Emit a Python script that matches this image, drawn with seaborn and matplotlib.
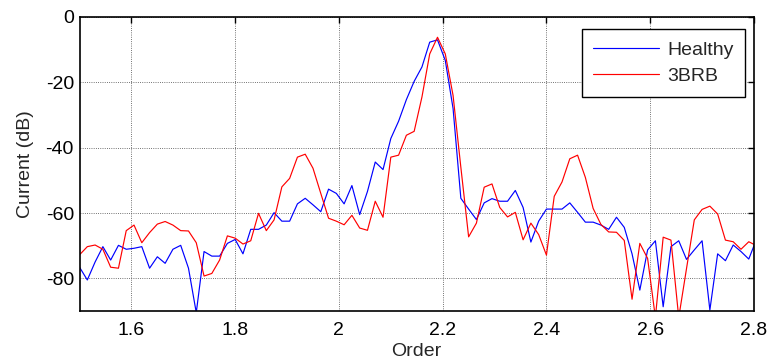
import numpy as np
import pandas as pd
import matplotlib
matplotlib.use("Agg")
import matplotlib.pyplot as plt
import seaborn as sns

## Data (order spectrum, dB)

order_start = 1.5
order_step = 0.015

healthy = [-76.6, -80.5, -75.0, -70.3, -74.4, -69.9, -71.1, -70.8, -70.3, -76.9,
           -73.4, -75.4, -71.1, -69.9, -76.9, -90.5, -71.8, -73.2, -73.2, -69.3,
           -68.1, -72.5, -65.0, -65.0, -63.7, -59.9, -62.5, -62.5, -57.2, -55.5,
           -57.5, -59.6, -52.7, -54.0, -57.2, -51.6, -60.5, -53.4, -44.4, -46.7,
           -37.2, -31.9, -25.3, -19.7, -15.3, -7.7, -7.0, -13.3, -28.0, -55.5,
           -58.8, -62.0, -56.9, -55.6, -56.4, -56.4, -53.1, -58.3, -68.9, -62.5,
           -58.8, -58.8, -58.8, -56.9, -59.8, -62.8, -62.8, -63.7, -65.0, -61.3,
           -64.4, -72.5, -83.6, -71.3, -68.5, -88.7, -70.3, -68.5, -74.2, -71.3,
           -68.5, -89.7, -72.5, -74.6, -69.8, -71.8, -74.1, -68.0]

brb3 = [-72.8, -70.3, -69.8, -71.1, -76.6, -76.9, -65.4, -63.7, -69.1, -66.0,
        -63.4, -62.6, -63.7, -65.4, -65.5, -69.1, -79.3, -78.5, -74.4, -67.0,
        -67.7, -69.5, -68.5, -60.1, -65.4, -62.1, -52.0, -49.4, -42.9, -42.0,
        -46.3, -54.0, -61.6, -62.5, -63.6, -60.7, -64.6, -65.3, -56.4, -61.3,
        -42.9, -42.3, -36.2, -35.0, -24.5, -11.3, -6.2, -11.3, -24.0, -46.0,
        -67.3, -63.1, -52.1, -51.1, -58.3, -61.2, -59.8, -68.2, -63.1, -66.6,
        -72.9, -54.9, -50.5, -43.4, -42.3, -49.1, -58.6, -63.5, -65.8, -65.9,
        -68.4, -86.4, -69.3, -73.9, -92.0, -67.4, -68.3, -92.0, -77.0, -62.1,
        -58.9, -57.9, -60.3, -68.3, -68.8, -71.1, -68.8, -70.0]

labels = ["Healthy", "3BRB"]
colors = ["#0000ff", "#ff0000"]

xticks = [1.6, 1.8, 2.0, 2.2, 2.4, 2.6, 2.8]
xtick_labels = ["1.6", "1.8", "2", "2.2", "2.4", "2.6", "2.8"]
yticks = [-80, -60, -40, -20, 0]

order = order_start + order_step * np.arange(len(healthy))
df = pd.concat([
    pd.DataFrame({"Order": order, "Current": healthy, "Signal": labels[0]}),
    pd.DataFrame({"Order": order, "Current": brb3, "Signal": labels[1]}),
])

sns.set_style("white")
plt.rcParams['font.family'] = ['Liberation Sans', 'DejaVu Sans']
plt.rcParams['axes.unicode_minus'] = False

fig = plt.figure(figsize=(7.67, 3.64), dpi=100)
ax = fig.add_axes([0.1037, 0.1456, 0.8793, 0.8077])

sns.lineplot(data=df, x="Order", y="Current", hue="Signal",
             palette=colors, linewidth=0.85, ax=ax, estimator=None, sort=False)

ax.set_xlim(1.5, 2.8)
ax.set_ylim(-90, 0)
ax.set_xticks(xticks)
ax.set_xticklabels(xtick_labels)
ax.set_yticks(yticks)

# matlab look: dotted grid, inward ticks on all sides
ax.grid(True, linestyle=":", color="#444444", linewidth=0.6)
ax.tick_params(direction="in", length=4, width=1, top=True, right=True,
               labelsize=14, colors="black")
ax.tick_params(axis="x", pad=8)
ax.tick_params(axis="y", pad=4)
for sp in ax.spines.values():
    sp.set_visible(True)
    sp.set_color("black")
    sp.set_linewidth(1.2)

ax.set_xlabel("Order", fontsize=14, labelpad=3)
ax.set_ylabel("Current (dB)", fontsize=14, labelpad=8)

leg = ax.legend(loc="upper right", bbox_to_anchor=(0.987, 0.958),
                borderaxespad=0, fontsize=14, fancybox=False, framealpha=1,
                edgecolor="black", handlelength=3.4, handletextpad=0.4,
                labelspacing=0.45, borderpad=0.6)
leg.get_frame().set_linewidth(1.0)

fig.savefig("out.png", dpi=100)
